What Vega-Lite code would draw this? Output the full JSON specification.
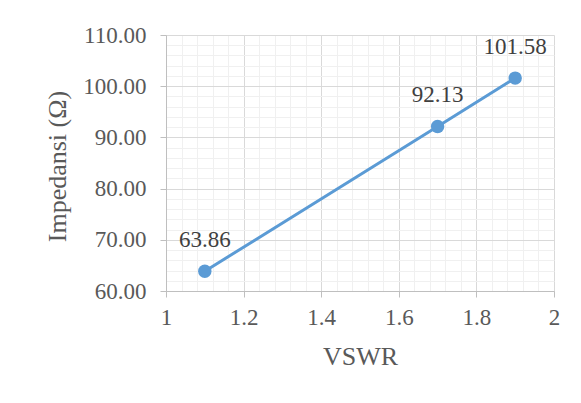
{
  "$schema": "https://vega.github.io/schema/vega-lite/v6.json",
  "autosize": "none",
  "width": 388,
  "height": 256,
  "padding": {"left": 166, "top": 35, "right": 27, "bottom": 112},
  "background": "white",
  "config": {
    "font": "Times New Roman, Liberation Serif, serif",
    "view": {"stroke": null},
    "axis": {
      "domainColor": "#bfbfbf",
      "domainWidth": 1,
      "tickColor": "#bfbfbf",
      "tickSize": 6,
      "labelColor": "#595959",
      "labelFont": "Times New Roman, Liberation Serif, serif",
      "labelFontSize": 23,
      "titleColor": "#595959",
      "titleFont": "Times New Roman, Liberation Serif, serif",
      "titleFontSize": 26,
      "titleFontWeight": "normal",
      "gridWidth": 1
    }
  },
  "data": {
    "values": [
      {"VSWR": 1.1, "Impedansi": 63.86},
      {"VSWR": 1.7, "Impedansi": 92.13},
      {"VSWR": 1.9, "Impedansi": 101.58}
    ]
  },
  "encoding": {
    "x": {
      "field": "VSWR",
      "type": "quantitative",
      "scale": {"domain": [1, 2], "nice": false, "zero": false},
      "axis": {
        "title": "VSWR",
        "values": [1, 1.04, 1.08, 1.12, 1.16, 1.2, 1.24, 1.28, 1.32, 1.36, 1.4, 1.44, 1.48, 1.52, 1.56, 1.6, 1.64, 1.68, 1.72, 1.76, 1.8, 1.84, 1.88, 1.92, 1.96, 2],
        "labelExpr": "round(datum.value * 100) % 20 == 0 ? format(datum.value, '~g') : ''",
        "labelPadding": 9,
        "labelFlush": false,
        "labelOverlap": false,
        "grid": true,
        "gridColor": {"condition": {"test": "round(datum.value * 100) % 20 == 0", "value": "#d9d9d9"}, "value": "#f0f0f0"},
        "tickOpacity": {"condition": {"test": "round(datum.value * 100) % 20 == 0", "value": 1}, "value": 0},
        "titleY": 65,
        "titleBaseline": "middle"
      }
    },
    "y": {
      "field": "Impedansi",
      "type": "quantitative",
      "scale": {"domain": [60, 110], "nice": false, "zero": false},
      "axis": {
        "title": "Impedansi (Ω)",
        "values": [60, 62, 64, 66, 68, 70, 72, 74, 76, 78, 80, 82, 84, 86, 88, 90, 92, 94, 96, 98, 100, 102, 104, 106, 108, 110],
        "labelExpr": "datum.value % 10 == 0 ? format(datum.value, '.2f') : ''",
        "labelPadding": 14,
        "labelFlush": false,
        "labelOverlap": false,
        "grid": true,
        "gridColor": {"condition": {"test": "datum.value % 10 == 0", "value": "#d9d9d9"}, "value": "#f0f0f0"},
        "tickOpacity": {"condition": {"test": "datum.value % 10 == 0", "value": 1}, "value": 0},
        "titleX": -109,
        "titleY": 131,
        "titleAngle": -90,
        "titleAlign": "center",
        "titleBaseline": "middle"
      }
    }
  },
  "layer": [
    {
      "mark": {"type": "line", "color": "#5b9bd5", "strokeWidth": 3}
    },
    {
      "mark": {"type": "point", "shape": "circle", "filled": true, "opacity": 1, "color": "#5b9bd5", "size": 180}
    },
    {
      "mark": {"type": "text", "dy": -31, "baseline": "middle", "align": "center", "fontSize": 23, "color": "#404040", "font": "Times New Roman, Liberation Serif, serif"},
      "encoding": {"text": {"field": "Impedansi", "type": "quantitative", "format": ".2f"}}
    }
  ]
}
